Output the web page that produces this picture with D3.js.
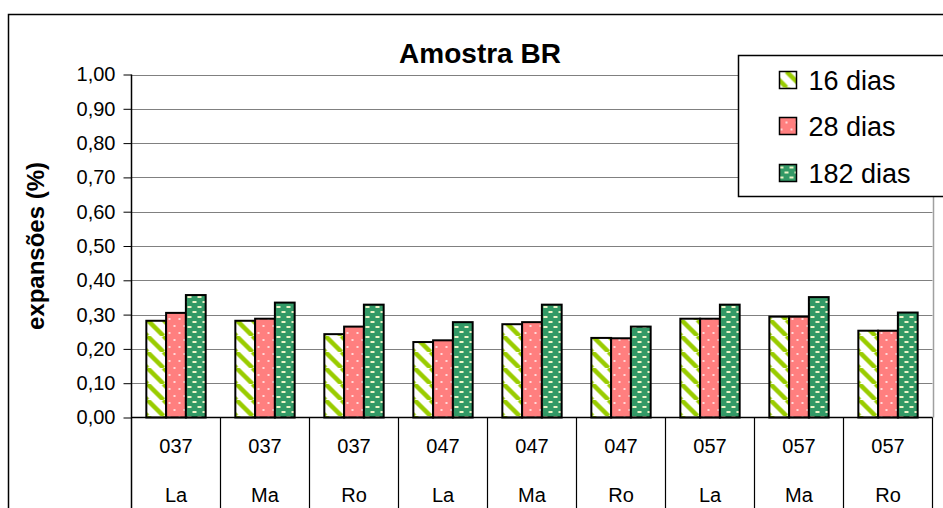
<!DOCTYPE html>
<html>
<head>
<meta charset="utf-8">
<script src="https://cdn.jsdelivr.net/npm/d3@7"></script>
<style>
  html, body { margin: 0; padding: 0; background: #fff; }
  svg { display: block; font-family: "Liberation Sans", Arial, sans-serif; }
</style>
</head>
<body>
<svg width="943" height="508"></svg>
<script>
  // DATA
  const sampleCodes = ["037", "037", "037", "047", "047", "047", "057", "057", "057"];
  const aggregates = ["La", "Ma", "Ro", "La", "Ma", "Ro", "La", "Ma", "Ro"];
  const seriesNames = ["16 dias", "28 dias", "182 dias"];
  const dias16 = [0.282, 0.282, 0.243, 0.220, 0.272, 0.232, 0.288, 0.294, 0.253];
  const dias28 = [0.305, 0.288, 0.265, 0.225, 0.278, 0.231, 0.288, 0.294, 0.253];
  const dias182 = [0.357, 0.335, 0.329, 0.278, 0.329, 0.265, 0.329, 0.351, 0.306];
  const yTicks = [0, 0.1, 0.2, 0.3, 0.4, 0.5, 0.6, 0.7, 0.8, 0.9, 1.0];
  const title = "Amostra BR";
  const yLabel = "expansões (%)";

  // SVG PARAMETERS
  const svg = d3.select("svg");
  const width = +svg.attr("width");
  const height = +svg.attr("height");

  const plot = { left: 131.5, right: 932.5, top: 74.5, bottom: 417.5 };
  const fmt = (v) => d3.format(".2f")(v).replace(".", ",");

  // PATTERNS
  const defs = svg.append("defs");

  const p16 = defs.append("pattern")
    .attr("id", "p16").attr("patternUnits", "userSpaceOnUse")
    .attr("width", 16).attr("height", 16);
  p16.append("rect").attr("width", 16).attr("height", 16).attr("fill", "#fff");
  [-16, 0, 16].forEach((o) => {
    p16.append("line")
      .attr("x1", o).attr("y1", 0).attr("x2", o + 16).attr("y2", 16)
      .attr("stroke", "#99cc00").attr("stroke-width", 4.5);
  });

  const p28 = defs.append("pattern")
    .attr("id", "p28").attr("patternUnits", "userSpaceOnUse")
    .attr("width", 10).attr("height", 14);
  p28.append("rect").attr("width", 10).attr("height", 14).attr("fill", "#ff7f7f");
  [[2, 3], [7, 10]].forEach(([x, y]) => {
    p28.append("rect").attr("x", x).attr("y", y).attr("width", 2).attr("height", 2)
      .attr("fill", "#ffd8d8");
  });

  const p182 = defs.append("pattern")
    .attr("id", "p182").attr("patternUnits", "userSpaceOnUse")
    .attr("width", 10).attr("height", 10);
  p182.append("rect").attr("width", 10).attr("height", 10).attr("fill", "#339966");
  [[1, 1], [6, 6]].forEach(([x, y]) => {
    p182.append("rect").attr("x", x).attr("y", y).attr("width", 4).attr("height", 2)
      .attr("fill", "#eef5c8");
  });

  const fills = ["url(#p16)", "url(#p28)", "url(#p182)"];

  // OUTER CHART BORDER
  svg.append("rect")
    .attr("x", 8.5).attr("y", 14.5)
    .attr("width", width + 20).attr("height", height + 20)
    .attr("fill", "#fff").attr("stroke", "#000").attr("stroke-width", 1.5);

  // SCALES
  const xScale = d3.scaleBand()
    .domain(d3.range(sampleCodes.length))
    .range([plot.left, plot.right])
    .paddingInner(0).paddingOuter(0);

  const yScale = d3.scaleLinear()
    .domain([0, 1])
    .range([plot.bottom, plot.top]);

  // GRIDLINES + Y AXIS
  const yAxis = d3.axisLeft(yScale)
    .tickValues(yTicks)
    .tickFormat(fmt)
    .tickSize(8)
    .tickPadding(8);
  const yAxisG = svg.append("g")
    .attr("transform", `translate(${plot.left},0)`)
    .call(yAxis);
  yAxisG.select(".domain").remove();
  yAxisG.selectAll(".tick line").attr("stroke", "#000");
  yAxisG.selectAll(".tick text")
    .attr("font-size", 20)
    .attr("fill", "#000")
    .attr("font-family", "Liberation Sans, Arial, sans-serif");

  svg.append("g")
    .selectAll("line")
    .data(yTicks.filter((t) => t > 0))
    .enter()
    .append("line")
    .attr("x1", plot.left).attr("x2", plot.right)
    .attr("y1", (d) => Math.round(yScale(d)) + 0.5)
    .attr("y2", (d) => Math.round(yScale(d)) + 0.5)
    .attr("stroke", "#808080").attr("stroke-width", 1.2);

  // right edge of plot area
  svg.append("line")
    .attr("x1", plot.right + 1).attr("x2", plot.right + 1)
    .attr("y1", plot.top).attr("y2", plot.bottom)
    .attr("stroke", "#a0a0a0").attr("stroke-width", 1.5);

  // BARS
  const seriesData = [dias16, dias28, dias182];
  const barW = xScale.bandwidth() / 4.5;
  const groups = svg.append("g")
    .selectAll("g")
    .data(sampleCodes.map((c, i) => i))
    .enter()
    .append("g")
    .attr("transform", (i) => `translate(${xScale(i)},0)`);

  groups.selectAll("rect")
    .data((i) => seriesData.map((s, k) => ({ k, v: s[i] })))
    .enter()
    .append("rect")
    .attr("x", (d) => 0.75 * barW + d.k * barW)
    .attr("y", (d) => yScale(d.v))
    .attr("width", barW)
    .attr("height", (d) => plot.bottom - yScale(d.v))
    .attr("fill", (d) => fills[d.k])
    .attr("stroke", "#000")
    .attr("stroke-width", 2);

  // CATEGORY TABLE
  svg.append("line")
    .attr("x1", plot.left).attr("x2", plot.right)
    .attr("y1", plot.bottom).attr("y2", plot.bottom)
    .attr("stroke", "#000").attr("stroke-width", 1.5);

  svg.append("line")
    .attr("x1", plot.left).attr("x2", plot.left)
    .attr("y1", plot.top).attr("y2", height)
    .attr("stroke", "#000").attr("stroke-width", 1.5);

  svg.append("g")
    .selectAll("line")
    .data(d3.range(1, sampleCodes.length + 1))
    .enter()
    .append("line")
    .attr("x1", (i) => xScale(i - 1) + xScale.bandwidth())
    .attr("x2", (i) => xScale(i - 1) + xScale.bandwidth())
    .attr("y1", plot.bottom).attr("y2", height)
    .attr("stroke", "#000").attr("stroke-width", 1.2);

  const catG = svg.append("g")
    .attr("font-size", 20)
    .attr("text-anchor", "middle");
  catG.selectAll("text.code")
    .data(sampleCodes)
    .enter()
    .append("text")
    .attr("class", "code")
    .attr("x", (d, i) => xScale(i) + xScale.bandwidth() / 2)
    .attr("y", 453)
    .text((d) => d);
  catG.selectAll("text.agg")
    .data(aggregates)
    .enter()
    .append("text")
    .attr("class", "agg")
    .attr("x", (d, i) => xScale(i) + xScale.bandwidth() / 2)
    .attr("y", 502)
    .text((d) => d);

  // TITLE
  svg.append("text")
    .attr("x", 480)
    .attr("y", 63)
    .attr("text-anchor", "middle")
    .attr("font-size", 28)
    .attr("font-weight", "bold")
    .text(title);

  // Y LABEL
  svg.append("text")
    .attr("transform", `translate(44,246) rotate(-90)`)
    .attr("text-anchor", "middle")
    .attr("font-size", 24)
    .attr("font-weight", "bold")
    .text(yLabel);

  // LEGEND
  const legend = svg.append("g").attr("transform", "translate(738.5,55.5)");
  legend.append("rect")
    .attr("width", 240).attr("height", 141)
    .attr("fill", "#fff").attr("stroke", "#000").attr("stroke-width", 1.5);
  const rows = [24, 70, 117];
  seriesNames.forEach((name, k) => {
    legend.append("rect")
      .attr("x", 41).attr("y", rows[k] - 8)
      .attr("width", 17).attr("height", 17)
      .attr("fill", fills[k]).attr("stroke", "#000").attr("stroke-width", 1.5);
    legend.append("text")
      .attr("x", 70).attr("y", rows[k] + 10)
      .attr("font-size", 27)
      .text(name);
  });
</script>
</body>
</html>
